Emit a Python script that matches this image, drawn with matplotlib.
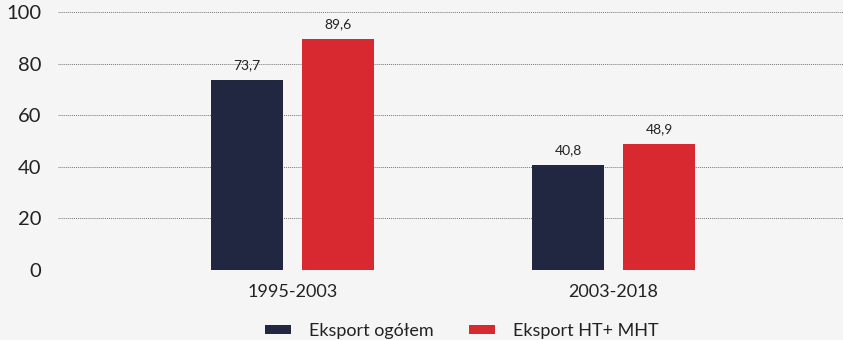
import matplotlib.pyplot as plt
import numpy as np

periods = ["1995-2003", "2003-2018"]
eksport_ogolem = [73.7, 40.8]
eksport_ht_mht = [89.6, 48.9]
series_names = ["Eksport ogółem", "Eksport HT+ MHT"]
colors = ["#212641", "#d82830"]

plt.rcParams['font.family'] = ['Lato', 'DejaVu Sans']

fig = plt.figure(figsize=(8.43, 3.40), dpi=100)
fig.patch.set_facecolor("#f5f5f5")
ax = fig.add_axes([0.0688, 0.2059, 0.9312, 0.7588])
ax.set_facecolor("#f5f5f5")

x = np.arange(len(periods))
width = 0.224
offset = 0.1417
for vals, name, col, sh in zip([eksport_ogolem, eksport_ht_mht], series_names, colors, [-offset, offset]):
    bars = ax.bar(x + sh, vals, width, color=col, label=name, zorder=3)
    for b, v in zip(bars, vals):
        ax.text(b.get_x() + b.get_width() / 2, v + 3.5, f"{v:.1f}".replace(".", ","),
                ha="center", va="bottom", fontsize=10, color="#222222")

ax.set_ylim(0, 100)
ax.set_xlim(-0.7305, 1.715)
ax.set_yticks(range(0, 101, 20))
ax.yaxis.grid(True, linestyle=(0, (1, 1)), color="#777777", linewidth=0.7, zorder=0)
ax.tick_params(axis="y", length=0, pad=12, labelsize=14.5, labelcolor="#222222")
ax.tick_params(axis="x", length=0, pad=10, labelsize=13, labelcolor="#222222")
ax.set_xticks(x)
ax.set_xticklabels(periods)
for s in ax.spines.values():
    s.set_visible(False)

fig.legend(loc="lower center", bbox_to_anchor=(0.548, -0.045), ncol=2, frameon=False,
           fontsize=13, handlelength=1.45, handleheight=0.35, handletextpad=1.0,
           columnspacing=1.95, labelcolor="#222222")

fig.savefig("out.png", dpi=100, facecolor=fig.get_facecolor())
